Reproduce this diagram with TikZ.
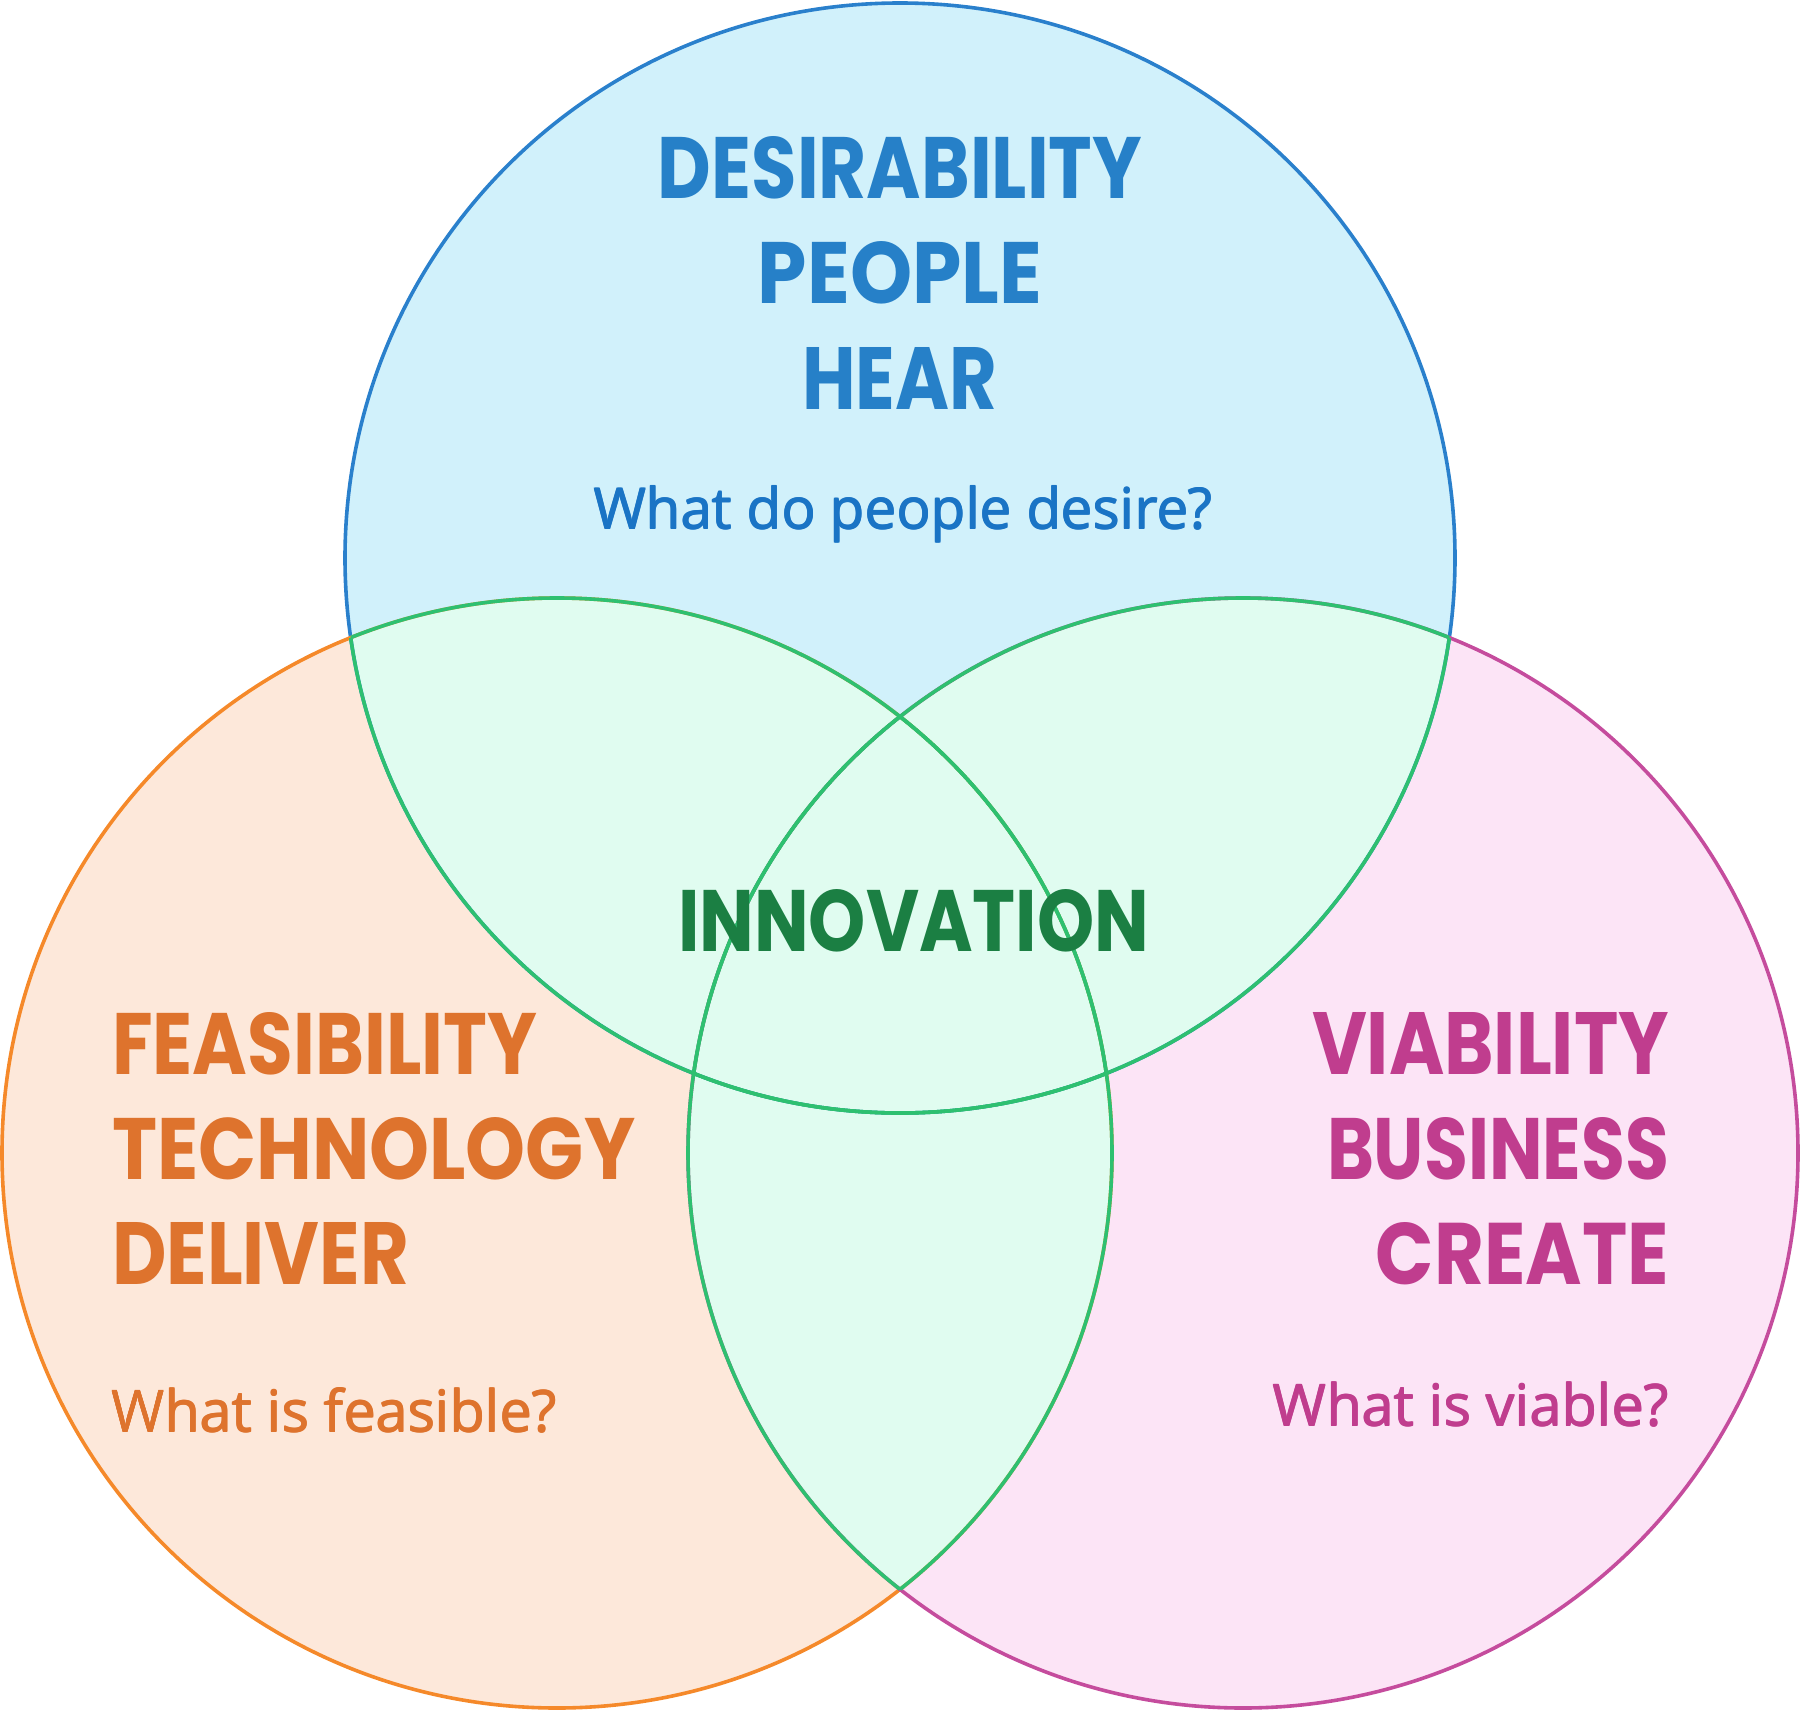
\documentclass[tikz,border=0pt]{standalone}
\usepackage{fontspec}
\usepackage{graphicx}
\newfontfamily\titlefont{Poppins}
\newfontfamily\subfont{Open Sans}
\definecolor{topfill}{HTML}{D1F1FB}
\definecolor{topline}{HTML}{2A80CC}
\definecolor{leftfill}{HTML}{FDE8DA}
\definecolor{leftline}{HTML}{F5892A}
\definecolor{rightfill}{HTML}{FCE4F6}
\definecolor{rightline}{HTML}{C54C9D}
\definecolor{midfill}{HTML}{E0FCF0}
\definecolor{midline}{HTML}{2EC070}
\definecolor{toptext}{HTML}{2680C8}
\definecolor{topsub}{HTML}{1A74C5}
\definecolor{lefttext}{HTML}{DE732D}
\definecolor{righttext}{HTML}{C03D8E}
\definecolor{midtext}{HTML}{1B7F43}
\tikzset{
  ring/.style={line width=3.6pt},
  lbl/.style={inner sep=0pt, outer sep=0pt},
}
\newsavebox{\subbox}
\newcommand{\ttl}[2]{\resizebox{#1pt}{62pt}{\titlefont\bfseries #2}}
\newcommand{\stl}[2]{\sbox{\subbox}{\resizebox{#1pt}{!}{\subfont #2}}%
  \rlap{\usebox{\subbox}}\rlap{\raisebox{0.9pt}{\usebox{\subbox}}}\hspace{1pt}%
  \rlap{\usebox{\subbox}}\raisebox{0.9pt}{\usebox{\subbox}}}
\begin{document}
\begin{tikzpicture}[x=1pt,y=-1pt]
\useasboundingbox (0,0) rectangle (1800,1710);
\def\R{555pt}
\coordinate (T) at (900,558);
\coordinate (L) at (557,1153);
\coordinate (Rt) at (1243,1153);
% fills
\fill[topfill] (T) circle[radius=\R];
\fill[leftfill] (L) circle[radius=\R];
\fill[rightfill] (Rt) circle[radius=\R];
\begin{scope}\clip (L) circle[radius=\R]; \fill[midfill] (T) circle[radius=\R];\end{scope}
\begin{scope}\clip (Rt) circle[radius=\R]; \fill[midfill] (T) circle[radius=\R];\end{scope}
\begin{scope}\clip (L) circle[radius=\R]; \fill[midfill] (Rt) circle[radius=\R];\end{scope}
% outlines
\draw[ring,topline] (T) circle[radius=\R];
\draw[ring,leftline] (L) circle[radius=\R];
\draw[ring,rightline] (Rt) circle[radius=\R];
\begin{scope}\clip (L) circle[radius=\R]; \draw[ring,midline] (T) circle[radius=\R]; \draw[ring,midline] (Rt) circle[radius=\R];\end{scope}
\begin{scope}\clip (Rt) circle[radius=\R]; \draw[ring,midline] (T) circle[radius=\R]; \draw[ring,midline] (L) circle[radius=\R];\end{scope}
\begin{scope}\clip (T) circle[radius=\R]; \draw[ring,midline] (L) circle[radius=\R]; \draw[ring,midline] (Rt) circle[radius=\R];\end{scope}
% top texts
\node[lbl,anchor=base,text=toptext] (t1) at (900,198) {\ttl{484}{DESIRABILITY}};
\node[lbl,anchor=base,text=toptext] (t2) at (900,303) {\ttl{284}{PEOPLE}};
\node[lbl,anchor=base,text=toptext] (t3) at (899.5,409) {\ttl{195}{HEAR}};
\node[lbl,anchor=base west,text=topsub] (t4) at (593,529) {\stl{619}{What do people desire?}};
% left texts
\node[lbl,anchor=base west,text=lefttext] (l1) at (112,1074) {\ttl{425}{FEASIBILITY}};
\node[lbl,anchor=base west,text=lefttext] (l2) at (112,1179) {\ttl{523}{TECHNOLOGY}};
\node[lbl,anchor=base west,text=lefttext] (l3) at (112,1284) {\ttl{297}{DELIVER}};
\node[lbl,anchor=base west,text=lefttext] (l4) at (111,1432) {\stl{445}{What is feasible?}};
% right texts
\node[lbl,anchor=base east,text=righttext] (r1) at (1669,1074) {\ttl{357}{VIABILITY}};
\node[lbl,anchor=base east,text=righttext] (r2) at (1669,1179) {\ttl{342}{BUSINESS}};
\node[lbl,anchor=base east,text=righttext] (r3) at (1669,1284) {\ttl{293}{CREATE}};
\node[lbl,anchor=base east,text=righttext] (r4) at (1669,1426) {\stl{395}{What is viable?}};
% centre
\node[lbl,anchor=base west,text=midtext] (c1) at (678,951) {\ttl{471}{INNOVATION}};
\end{tikzpicture}
\end{document}
